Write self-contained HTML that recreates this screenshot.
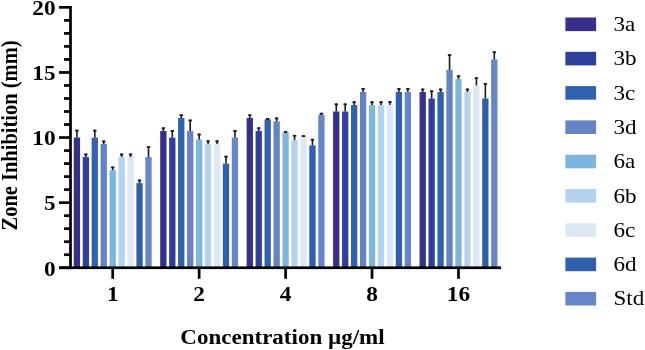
<!DOCTYPE html><html><head><meta charset="utf-8"><style>html,body{margin:0;padding:0;background:#fff;width:645px;height:350px;overflow:hidden}svg{display:block;will-change:transform}text{font-family:"Liberation Serif",serif}</style></head><body>
<svg width="645" height="350" viewBox="0 0 645 350">
<rect width="645" height="350" fill="#fff"/>
<rect x="73.75" y="137.55" width="6.3" height="130.2" fill="#372F8E"/>
<rect x="76.1" y="129.74" width="1.6" height="7.81" fill="#1a1a1a"/>
<rect x="75.2" y="129.74" width="3.4" height="1.8" fill="#1a1a1a"/>
<rect x="82.7" y="157.08" width="6.3" height="110.67" fill="#2E3F9E"/>
<rect x="85.05" y="153.56" width="1.6" height="3.52" fill="#1a1a1a"/>
<rect x="84.15" y="153.56" width="3.4" height="1.8" fill="#1a1a1a"/>
<rect x="91.65" y="137.55" width="6.3" height="130.2" fill="#2F63B2"/>
<rect x="94" y="129.74" width="1.6" height="7.81" fill="#1a1a1a"/>
<rect x="93.1" y="129.74" width="3.4" height="1.8" fill="#1a1a1a"/>
<rect x="100.6" y="144.06" width="6.3" height="123.69" fill="#6482C7"/>
<rect x="102.95" y="140.54" width="1.6" height="3.52" fill="#1a1a1a"/>
<rect x="102.05" y="140.54" width="3.4" height="1.8" fill="#1a1a1a"/>
<rect x="109.55" y="170.1" width="6.3" height="97.65" fill="#7BB6E0"/>
<rect x="111.9" y="166.58" width="1.6" height="3.52" fill="#1a1a1a"/>
<rect x="111" y="166.58" width="3.4" height="1.8" fill="#1a1a1a"/>
<rect x="118.5" y="157.08" width="6.3" height="110.67" fill="#B5D3EE"/>
<rect x="120.85" y="153.56" width="1.6" height="3.52" fill="#1a1a1a"/>
<rect x="119.95" y="153.56" width="3.4" height="1.8" fill="#1a1a1a"/>
<rect x="127.45" y="157.08" width="6.3" height="110.67" fill="#DCE8F5"/>
<rect x="129.8" y="153.56" width="1.6" height="3.52" fill="#1a1a1a"/>
<rect x="128.9" y="153.56" width="3.4" height="1.8" fill="#1a1a1a"/>
<rect x="136.4" y="183.12" width="6.3" height="84.63" fill="#2F60B0"/>
<rect x="138.75" y="179.6" width="1.6" height="3.52" fill="#1a1a1a"/>
<rect x="137.85" y="179.6" width="3.4" height="1.8" fill="#1a1a1a"/>
<rect x="145.35" y="157.08" width="6.3" height="110.67" fill="#6785CA"/>
<rect x="147.7" y="146.27" width="1.6" height="10.81" fill="#1a1a1a"/>
<rect x="146.8" y="146.27" width="3.4" height="1.8" fill="#1a1a1a"/>
<rect x="160.2" y="131.04" width="6.3" height="136.71" fill="#372F8E"/>
<rect x="162.55" y="127.39" width="1.6" height="3.65" fill="#1a1a1a"/>
<rect x="161.65" y="127.39" width="3.4" height="1.8" fill="#1a1a1a"/>
<rect x="169.15" y="137.55" width="6.3" height="130.2" fill="#2E3F9E"/>
<rect x="171.5" y="130" width="1.6" height="7.55" fill="#1a1a1a"/>
<rect x="170.6" y="130" width="3.4" height="1.8" fill="#1a1a1a"/>
<rect x="178.1" y="118.02" width="6.3" height="149.73" fill="#2F63B2"/>
<rect x="180.45" y="114.37" width="1.6" height="3.65" fill="#1a1a1a"/>
<rect x="179.55" y="114.37" width="3.4" height="1.8" fill="#1a1a1a"/>
<rect x="187.05" y="131.04" width="6.3" height="136.71" fill="#6482C7"/>
<rect x="189.4" y="119.58" width="1.6" height="11.46" fill="#1a1a1a"/>
<rect x="188.5" y="119.58" width="3.4" height="1.8" fill="#1a1a1a"/>
<rect x="196" y="139.5" width="6.3" height="128.25" fill="#7BB6E0"/>
<rect x="198.35" y="133.64" width="1.6" height="5.86" fill="#1a1a1a"/>
<rect x="197.45" y="133.64" width="3.4" height="1.8" fill="#1a1a1a"/>
<rect x="204.95" y="144.06" width="6.3" height="123.69" fill="#B5D3EE"/>
<rect x="207.3" y="140.41" width="1.6" height="3.65" fill="#1a1a1a"/>
<rect x="206.4" y="140.41" width="3.4" height="1.8" fill="#1a1a1a"/>
<rect x="213.9" y="144.06" width="6.3" height="123.69" fill="#DCE8F5"/>
<rect x="216.25" y="140.41" width="1.6" height="3.65" fill="#1a1a1a"/>
<rect x="215.35" y="140.41" width="3.4" height="1.8" fill="#1a1a1a"/>
<rect x="222.85" y="163.59" width="6.3" height="104.16" fill="#2F60B0"/>
<rect x="225.2" y="155.78" width="1.6" height="7.81" fill="#1a1a1a"/>
<rect x="224.3" y="155.78" width="3.4" height="1.8" fill="#1a1a1a"/>
<rect x="231.8" y="137.55" width="6.3" height="130.2" fill="#6785CA"/>
<rect x="234.15" y="130" width="1.6" height="7.55" fill="#1a1a1a"/>
<rect x="233.25" y="130" width="3.4" height="1.8" fill="#1a1a1a"/>
<rect x="246.65" y="118.02" width="6.3" height="149.73" fill="#372F8E"/>
<rect x="249" y="114.37" width="1.6" height="3.65" fill="#1a1a1a"/>
<rect x="248.1" y="114.37" width="3.4" height="1.8" fill="#1a1a1a"/>
<rect x="255.6" y="131.04" width="6.3" height="136.71" fill="#2E3F9E"/>
<rect x="257.95" y="127.39" width="1.6" height="3.65" fill="#1a1a1a"/>
<rect x="257.05" y="127.39" width="3.4" height="1.8" fill="#1a1a1a"/>
<rect x="264.55" y="119.32" width="6.3" height="148.43" fill="#2F63B2"/>
<rect x="266.9" y="118.02" width="1.6" height="1.3" fill="#1a1a1a"/>
<rect x="266" y="118.02" width="3.4" height="1.8" fill="#1a1a1a"/>
<rect x="273.5" y="121.28" width="6.3" height="146.47" fill="#6482C7"/>
<rect x="275.85" y="117.5" width="1.6" height="3.78" fill="#1a1a1a"/>
<rect x="274.95" y="117.5" width="3.4" height="1.8" fill="#1a1a1a"/>
<rect x="282.45" y="132.34" width="6.3" height="135.41" fill="#7BB6E0"/>
<rect x="284.8" y="131.04" width="1.6" height="1.3" fill="#1a1a1a"/>
<rect x="283.9" y="131.04" width="3.4" height="1.8" fill="#1a1a1a"/>
<rect x="291.4" y="140.15" width="6.3" height="127.6" fill="#B5D3EE"/>
<rect x="293.75" y="134.95" width="1.6" height="5.21" fill="#1a1a1a"/>
<rect x="292.85" y="134.95" width="3.4" height="1.8" fill="#1a1a1a"/>
<rect x="300.35" y="136.25" width="6.3" height="131.5" fill="#DCE8F5"/>
<rect x="302.7" y="135.21" width="1.6" height="1.04" fill="#1a1a1a"/>
<rect x="301.8" y="135.21" width="3.4" height="1.8" fill="#1a1a1a"/>
<rect x="309.3" y="145.36" width="6.3" height="122.39" fill="#2F60B0"/>
<rect x="311.65" y="138.85" width="1.6" height="6.51" fill="#1a1a1a"/>
<rect x="310.75" y="138.85" width="3.4" height="1.8" fill="#1a1a1a"/>
<rect x="318.25" y="114.77" width="6.3" height="152.98" fill="#6785CA"/>
<rect x="320.6" y="112.81" width="1.6" height="1.95" fill="#1a1a1a"/>
<rect x="319.7" y="112.81" width="3.4" height="1.8" fill="#1a1a1a"/>
<rect x="333.1" y="111.51" width="6.3" height="156.24" fill="#372F8E"/>
<rect x="335.45" y="103.44" width="1.6" height="8.07" fill="#1a1a1a"/>
<rect x="334.55" y="103.44" width="3.4" height="1.8" fill="#1a1a1a"/>
<rect x="342.05" y="111.51" width="6.3" height="156.24" fill="#2E3F9E"/>
<rect x="344.4" y="103.44" width="1.6" height="8.07" fill="#1a1a1a"/>
<rect x="343.5" y="103.44" width="3.4" height="1.8" fill="#1a1a1a"/>
<rect x="351" y="105" width="6.3" height="162.75" fill="#2F63B2"/>
<rect x="353.35" y="101.35" width="1.6" height="3.65" fill="#1a1a1a"/>
<rect x="352.45" y="101.35" width="3.4" height="1.8" fill="#1a1a1a"/>
<rect x="359.95" y="91.98" width="6.3" height="175.77" fill="#6482C7"/>
<rect x="362.3" y="88.07" width="1.6" height="3.91" fill="#1a1a1a"/>
<rect x="361.4" y="88.07" width="3.4" height="1.8" fill="#1a1a1a"/>
<rect x="368.9" y="105" width="6.3" height="162.75" fill="#7BB6E0"/>
<rect x="371.25" y="101.35" width="1.6" height="3.65" fill="#1a1a1a"/>
<rect x="370.35" y="101.35" width="3.4" height="1.8" fill="#1a1a1a"/>
<rect x="377.85" y="105" width="6.3" height="162.75" fill="#B5D3EE"/>
<rect x="380.2" y="101.35" width="1.6" height="3.65" fill="#1a1a1a"/>
<rect x="379.3" y="101.35" width="3.4" height="1.8" fill="#1a1a1a"/>
<rect x="386.8" y="105" width="6.3" height="162.75" fill="#DCE8F5"/>
<rect x="389.15" y="101.09" width="1.6" height="3.91" fill="#1a1a1a"/>
<rect x="388.25" y="101.09" width="3.4" height="1.8" fill="#1a1a1a"/>
<rect x="395.75" y="91.98" width="6.3" height="175.77" fill="#2F60B0"/>
<rect x="398.1" y="88.07" width="1.6" height="3.91" fill="#1a1a1a"/>
<rect x="397.2" y="88.07" width="3.4" height="1.8" fill="#1a1a1a"/>
<rect x="404.7" y="91.98" width="6.3" height="175.77" fill="#6785CA"/>
<rect x="407.05" y="88.07" width="1.6" height="3.91" fill="#1a1a1a"/>
<rect x="406.15" y="88.07" width="3.4" height="1.8" fill="#1a1a1a"/>
<rect x="419.55" y="91.98" width="6.3" height="175.77" fill="#372F8E"/>
<rect x="421.9" y="88.59" width="1.6" height="3.39" fill="#1a1a1a"/>
<rect x="421" y="88.59" width="3.4" height="1.8" fill="#1a1a1a"/>
<rect x="428.5" y="98.49" width="6.3" height="169.26" fill="#2E3F9E"/>
<rect x="430.85" y="90.42" width="1.6" height="8.07" fill="#1a1a1a"/>
<rect x="429.95" y="90.42" width="3.4" height="1.8" fill="#1a1a1a"/>
<rect x="437.45" y="91.98" width="6.3" height="175.77" fill="#2F63B2"/>
<rect x="439.8" y="88.59" width="1.6" height="3.39" fill="#1a1a1a"/>
<rect x="438.9" y="88.59" width="3.4" height="1.8" fill="#1a1a1a"/>
<rect x="446.4" y="69.85" width="6.3" height="197.9" fill="#6482C7"/>
<rect x="448.75" y="54.22" width="1.6" height="15.62" fill="#1a1a1a"/>
<rect x="447.85" y="54.22" width="3.4" height="1.8" fill="#1a1a1a"/>
<rect x="455.35" y="78.96" width="6.3" height="188.79" fill="#7BB6E0"/>
<rect x="457.7" y="75.31" width="1.6" height="3.65" fill="#1a1a1a"/>
<rect x="456.8" y="75.31" width="3.4" height="1.8" fill="#1a1a1a"/>
<rect x="464.3" y="91.98" width="6.3" height="175.77" fill="#B5D3EE"/>
<rect x="466.65" y="88.59" width="1.6" height="3.39" fill="#1a1a1a"/>
<rect x="465.75" y="88.59" width="3.4" height="1.8" fill="#1a1a1a"/>
<rect x="473.25" y="85.47" width="6.3" height="182.28" fill="#DCE8F5"/>
<rect x="475.6" y="77.27" width="1.6" height="8.2" fill="#1a1a1a"/>
<rect x="474.7" y="77.27" width="3.4" height="1.8" fill="#1a1a1a"/>
<rect x="482.2" y="98.49" width="6.3" height="169.26" fill="#2F60B0"/>
<rect x="484.55" y="83" width="1.6" height="15.49" fill="#1a1a1a"/>
<rect x="483.65" y="83" width="3.4" height="1.8" fill="#1a1a1a"/>
<rect x="491.15" y="59.43" width="6.3" height="208.32" fill="#6785CA"/>
<rect x="493.5" y="51.36" width="1.6" height="8.07" fill="#1a1a1a"/>
<rect x="492.6" y="51.36" width="3.4" height="1.8" fill="#1a1a1a"/>
<rect x="69.15" y="6" width="2.7" height="263.1" fill="#000"/>
<rect x="59" y="266.4" width="442" height="2.7" fill="#000"/>
<rect x="59" y="266.4" width="11.5" height="2.7" fill="#000"/>
<rect x="64" y="253.38" width="6.5" height="2.7" fill="#000"/>
<rect x="64" y="240.36" width="6.5" height="2.7" fill="#000"/>
<rect x="64" y="227.34" width="6.5" height="2.7" fill="#000"/>
<rect x="64" y="214.32" width="6.5" height="2.7" fill="#000"/>
<rect x="59" y="201.3" width="11.5" height="2.7" fill="#000"/>
<rect x="64" y="188.28" width="6.5" height="2.7" fill="#000"/>
<rect x="64" y="175.26" width="6.5" height="2.7" fill="#000"/>
<rect x="64" y="162.24" width="6.5" height="2.7" fill="#000"/>
<rect x="64" y="149.22" width="6.5" height="2.7" fill="#000"/>
<rect x="59" y="136.2" width="11.5" height="2.7" fill="#000"/>
<rect x="64" y="123.18" width="6.5" height="2.7" fill="#000"/>
<rect x="64" y="110.16" width="6.5" height="2.7" fill="#000"/>
<rect x="64" y="97.14" width="6.5" height="2.7" fill="#000"/>
<rect x="64" y="84.12" width="6.5" height="2.7" fill="#000"/>
<rect x="59" y="71.1" width="11.5" height="2.7" fill="#000"/>
<rect x="64" y="58.08" width="6.5" height="2.7" fill="#000"/>
<rect x="64" y="45.06" width="6.5" height="2.7" fill="#000"/>
<rect x="64" y="32.04" width="6.5" height="2.7" fill="#000"/>
<rect x="64" y="19.02" width="6.5" height="2.7" fill="#000"/>
<rect x="59" y="6" width="11.5" height="2.7" fill="#000"/>
<rect x="111.35" y="267.75" width="2.7" height="11.05" fill="#000"/>
<rect x="197.8" y="267.75" width="2.7" height="11.05" fill="#000"/>
<rect x="284.25" y="267.75" width="2.7" height="11.05" fill="#000"/>
<rect x="370.7" y="267.75" width="2.7" height="11.05" fill="#000"/>
<rect x="457.15" y="267.75" width="2.7" height="11.05" fill="#000"/>
<text transform="translate(55.6,275.55) scale(1.06,1)" text-anchor="end" font-weight="bold" font-size="22">0</text>
<text transform="translate(55.6,210.45) scale(1.06,1)" text-anchor="end" font-weight="bold" font-size="22">5</text>
<text transform="translate(55.6,145.35) scale(1.06,1)" text-anchor="end" font-weight="bold" font-size="22">10</text>
<text transform="translate(55.6,80.25) scale(1.06,1)" text-anchor="end" font-weight="bold" font-size="22">15</text>
<text transform="translate(55.6,15.15) scale(1.06,1)" text-anchor="end" font-weight="bold" font-size="22">20</text>
<text transform="translate(112.7,301.3) scale(1.06,1)" text-anchor="middle" font-weight="bold" font-size="22">1</text>
<text transform="translate(199.15,301.3) scale(1.06,1)" text-anchor="middle" font-weight="bold" font-size="22">2</text>
<text transform="translate(285.6,301.3) scale(1.06,1)" text-anchor="middle" font-weight="bold" font-size="22">4</text>
<text transform="translate(372.05,301.3) scale(1.06,1)" text-anchor="middle" font-weight="bold" font-size="22">8</text>
<text transform="translate(458.5,301.3) scale(1.06,1)" text-anchor="middle" font-weight="bold" font-size="22">16</text>
<text transform="translate(16.7,135.5) scale(1.1,1) rotate(-90)" text-anchor="middle" font-weight="bold" font-size="20.5">Zone Inhibition (mm)</text>
<text transform="translate(282.5,343.8) scale(1.096,1)" text-anchor="middle" font-weight="bold" font-size="21">Concentration µg/ml</text>
<rect x="565.4" y="17.5" width="30.7" height="13.6" fill="#372F8E"/>
<text transform="translate(613.5,31) scale(1.05,1)" font-size="22">3a</text>
<rect x="565.4" y="51.8" width="30.7" height="13.6" fill="#2E3F9E"/>
<text transform="translate(613.5,65.3) scale(1.05,1)" font-size="22">3b</text>
<rect x="565.4" y="86.1" width="30.7" height="13.6" fill="#2F63B2"/>
<text transform="translate(613.5,99.6) scale(1.05,1)" font-size="22">3c</text>
<rect x="565.4" y="120.4" width="30.7" height="13.6" fill="#6482C7"/>
<text transform="translate(613.5,133.9) scale(1.05,1)" font-size="22">3d</text>
<rect x="565.4" y="154.7" width="30.7" height="13.6" fill="#7BB6E0"/>
<text transform="translate(613.5,168.2) scale(1.05,1)" font-size="22">6a</text>
<rect x="565.4" y="189" width="30.7" height="13.6" fill="#B5D3EE"/>
<text transform="translate(613.5,202.5) scale(1.05,1)" font-size="22">6b</text>
<rect x="565.4" y="223.3" width="30.7" height="13.6" fill="#DCE8F5"/>
<text transform="translate(613.5,236.8) scale(1.05,1)" font-size="22">6c</text>
<rect x="565.4" y="257.6" width="30.7" height="13.6" fill="#2F60B0"/>
<text transform="translate(613.5,271.1) scale(1.05,1)" font-size="22">6d</text>
<rect x="565.4" y="291.9" width="30.7" height="13.6" fill="#6785CA"/>
<text transform="translate(613.5,305.4) scale(1.05,1)" font-size="22">Std</text>
</svg></body></html>
